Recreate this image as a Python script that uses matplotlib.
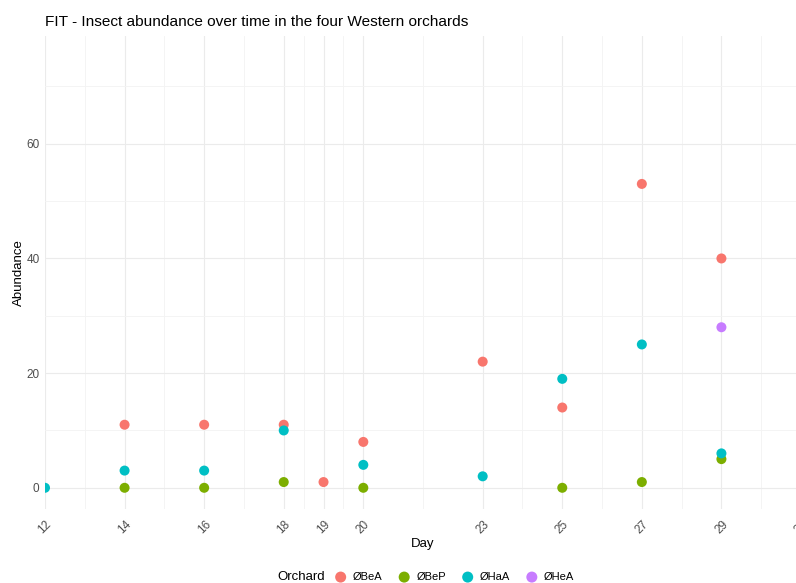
import matplotlib
matplotlib.use("Agg")
import matplotlib.pyplot as plt
from matplotlib.ticker import FixedLocator

plt.rcParams['font.family'] = ['Liberation Sans', 'DejaVu Sans']

# Abundance per sampling day for each orchard
orchards = ["ØBeA", "ØBeP", "ØHaA", "ØHeA"]
colors = ["#F8766D", "#7CAE00", "#00BFC4", "#C77CFF"]

bea_days = [14, 16, 18, 19, 20, 23, 25, 27, 29]
bea_abund = [11, 11, 11, 1, 8, 22, 14, 53, 40]

bep_days = [14, 16, 18, 20, 25, 27, 29]
bep_abund = [0, 0, 1, 0, 0, 1, 5]

haa_days = [12, 14, 16, 18, 20, 23, 25, 27, 29]
haa_abund = [0, 3, 3, 10, 4, 2, 19, 25, 6]

hea_days = [29]
hea_abund = [28]

x_breaks = [12, 14, 16, 18, 19, 20, 23, 25, 27, 29, 31]
x_minor = [13, 15, 17, 18.5, 19.5, 21.5, 24, 26, 28, 30]
y_breaks = [0, 20, 40, 60]
y_minor = [10, 30, 50, 70]

W, H = 796, 583
fig = plt.figure(figsize=(W / 100, H / 100), dpi=100)

# panel extends slightly beyond the right edge of the canvas
left_px, right_px, top_px, bottom_px = 45, 801, 36, 509
ax = fig.add_axes([left_px / W, 1 - bottom_px / H,
                   (right_px - left_px) / W, (bottom_px - top_px) / H])

series = [(bea_days, bea_abund), (bep_days, bep_abund),
          (haa_days, haa_abund), (hea_days, hea_abund)]
handles = []
for (d, a), name, c in zip(series, orchards, colors):
    h = ax.scatter(d, a, s=52, color=c, edgecolors='none', label=name,
                   zorder=3, clip_on=True)
    handles.append(h)

ax.set_xlim(12, 31)
ax.set_ylim(-3.7, 78.8)

ax.xaxis.set_major_locator(FixedLocator(x_breaks))
ax.xaxis.set_minor_locator(FixedLocator(x_minor))
ax.yaxis.set_major_locator(FixedLocator(y_breaks))
ax.yaxis.set_minor_locator(FixedLocator(y_minor))

ax.grid(which='major', color='#EBEBEB', linewidth=0.8)
ax.grid(which='minor', color='#F3F3F3', linewidth=0.6)
ax.set_axisbelow(True)
for s in ax.spines.values():
    s.set_visible(False)

ax.tick_params(which='both', length=0)
ax.tick_params(axis='x', which='major', labelsize=8.5, labelcolor='#4D4D4D', pad=7)
ax.tick_params(axis='y', which='major', labelsize=8.5, labelcolor='#4D4D4D', pad=4)
for lab in ax.get_xticklabels():
    lab.set_rotation(45)
    lab.set_ha('center')
    lab.set_va('top')

ax.set_xlabel("Day", fontsize=9.5, labelpad=1)
ax.set_ylabel("Abundance", fontsize=9.5, labelpad=1)

fig.text(left_px / W, 1 - 22 / H, "FIT - Insect abundance over time in the four Western orchards",
         fontsize=11.1, ha='left', va='center')

fig.text(277 / W, 1 - 577 / H, "Orchard", fontsize=9.5, ha='left', va='center')
fig.legend(handles=handles, labels=orchards, loc='center left',
           bbox_to_anchor=(334 / W, 1 - 577 / H), ncol=4, frameon=False,
           fontsize=8, handletextpad=0.5, columnspacing=1.35, markerscale=1.1,
           borderaxespad=0, borderpad=0, handlelength=1.2)

fig.savefig("out.png", dpi=100, facecolor='white')
